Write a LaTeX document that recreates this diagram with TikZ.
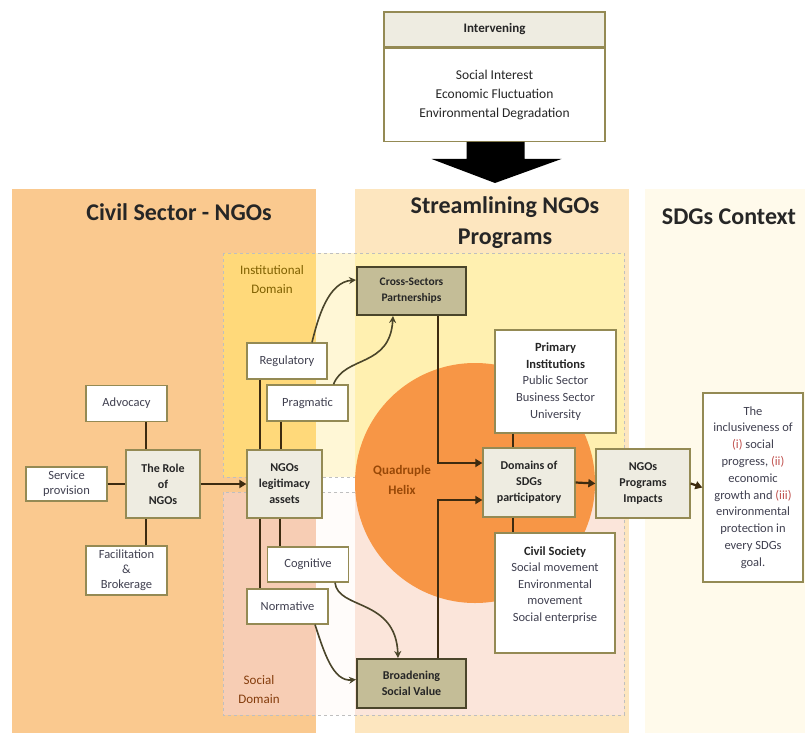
\documentclass[tikz,border=0pt]{standalone}
\usepackage{fontspec}
\setmainfont{Carlito}
\usetikzlibrary{calc,arrows.meta}
\definecolor{civilfill}{HTML}{FAC98F}
\definecolor{streamfill}{HTML}{FDE6BF}
\definecolor{sdgfill}{HTML}{FFFAEB}
\definecolor{instcivil}{HTML}{FFD97A}
\definecolor{instgap}{HTML}{FFF7D6}
\definecolor{inststream}{HTML}{FFF0B0}
\definecolor{soccivil}{HTML}{F7CDB4}
\definecolor{socgap}{HTML}{FFFCFA}
\definecolor{socstream}{HTML}{FBE5DA}
\definecolor{circfill}{HTML}{F79646}
\definecolor{boxborder}{HTML}{948A54}
\definecolor{cream}{HTML}{EEECE1}
\definecolor{khaki}{HTML}{C4BD97}
\definecolor{darkolive}{HTML}{4A452A}
\definecolor{conncol}{HTML}{3D2B10}
\definecolor{txtgray}{HTML}{404050}
\definecolor{txtdark}{HTML}{262626}
\definecolor{instcol}{HTML}{7F6000}
\definecolor{soccol}{HTML}{843C0C}
\definecolor{helixcol}{HTML}{984807}
\definecolor{romancol}{HTML}{C0504D}
\definecolor{domdash}{HTML}{BFBFBF}
\begin{document}
\begin{tikzpicture}[x=1pt,y=-1pt,
  wh/.style 2 args={minimum width=#1pt, minimum height=#2pt},
  wbox/.style={draw=boxborder, line width=1.3pt, fill=white, text=txtgray, align=center, inner sep=1pt, font=\fontsize{12.5}{16}\selectfont},
  cbox/.style={draw=boxborder, line width=1.3pt, fill=cream, text=txtdark, align=center, inner sep=1pt, font=\bfseries\fontsize{12}{16}\selectfont},
  kbox/.style={draw=darkolive, line width=2pt, fill=khaki, text=txtdark, align=center, inner sep=1pt, font=\bfseries\fontsize{11.5}{16}\selectfont},
  plaintxt/.style={text=txtgray, align=center, inner sep=0pt, font=\fontsize{12.5}{16.6}\selectfont},
  titletxt/.style={text=txtdark, align=center, inner sep=0pt, font=\bfseries\fontsize{24}{31}\selectfont},
  domlabel/.style={align=center, inner sep=0pt, font=\fontsize{13}{19}\selectfont},
  domline/.style={draw=domdash, line width=1pt, dash pattern=on 3pt off 3pt},
  conn/.style={draw=conncol, line width=2.2pt},
  arr/.style={conn, -{Triangle[length=7pt,width=8pt]}},
  curv/.style={draw=darkolive, line width=1.6pt, -{Stealth[length=7pt,width=7pt]}}
]
\useasboundingbox (0,0) rectangle (805,733);
\fill[white] (0,0) rectangle (805,733);
% panels
\fill[civilfill] (12,189) rectangle (316,733);
\fill[streamfill] (355,189) rectangle (629,733);
\fill[sdgfill] (645,189) rectangle (805,733);
% domains
\fill[instcivil] (223,253) rectangle (316,477);
\fill[instgap] (316,253) rectangle (355,477);
\fill[inststream] (355,253) rectangle (624,477);
\fill[soccivil] (223,492) rectangle (316,715);
\fill[socgap] (316,492) rectangle (355,715);
\fill[socstream] (355,492) rectangle (624,715);
\draw[domline] (223,253) rectangle (624,477);
\draw[domline] (223,492) rectangle (624,715);
% circle
\fill[circfill] (475,483) circle (120pt);

% titles and labels
\node[titletxt] (tcivil) at (179,212) {Civil Sector - NGOs};
\node[titletxt] (tstream) at (505,223) {Streamlining NGOs\\Programs};
\node[titletxt] (tsdg) at (729,217) {SDGs Context};
\node[domlabel, text=instcol] (tinst) at (272,280) {Institutional\\Domain};
\node[domlabel, text=soccol] (tsoc) at (259,690) {Social\\Domain};
\node[domlabel, text=helixcol, font=\bfseries\fontsize{13}{20}\selectfont] (thelix) at (402,480) {Quadruple\\Helix};

% intervening
\node[cbox, wh={221}{35}, font=\bfseries\fontsize{13}{16}\selectfont] (ihead) at (494.5,29.5) {Intervening};
\node[wbox, wh={221}{93}, anchor=north, font=\fontsize{13.5}{19}\selectfont, text=txtdark] (ibody) at (ihead.south) {Social Interest\\Economic Fluctuation\\Environmental Degradation};
\coordinate (atip) at (495,183);
\fill[black] ($(ibody.south)+(-28,0)$) -- ($(ibody.south)+(-28,17)$) -- ($(ibody.south)+(-63,17)$) -- (atip) -- ($(ibody.south)+(67,17)$) -- ($(ibody.south)+(30,17)$) -- ($(ibody.south)+(30,0)$) -- cycle;

% civil sector nodes
\node[wbox, wh={81}{36}] (advocacy) at (126.5,403.5) {Advocacy};
\node[wbox, wh={81}{34}, font=\fontsize{12.5}{15}\selectfont] (service) at (66.5,484) {Service\\provision};
\node[wbox, wh={81}{49}, font=\fontsize{12.5}{15}\selectfont] (facil) at (126.5,570.5) {Facilitation\\\&\\Brokerage};
\node[cbox, wh={74}{68}] (role) at (163,484) {The Role\\of\\NGOs};
\node[cbox, wh={75}{68}] (legit) at (284.5,484) {NGOs\\legitimacy\\assets};
\node[wbox, wh={80}{36}] (regul) at (287,361) {Regulatory};
\node[wbox, wh={81}{36}] (pragm) at (307.5,403) {Pragmatic};
\node[wbox, wh={81}{35}] (cogn) at (308,564.5) {Cognitive};
\node[wbox, wh={81}{35}] (norm) at (287.5,606.5) {Normative};

% streamlining nodes
\node[kbox, wh={109}{48}] (cross) at (411.5,291) {Cross-Sectors\\Partnerships};
\node[kbox, wh={109}{49}, font=\bfseries\fontsize{12}{16}\selectfont] (broad) at (411.5,683.5) {Broadening\\Social Value};
\node[wbox, wh={121}{103}, font=\fontsize{12.5}{16.8}\selectfont] (primary) at (555.5,381.5) {\textbf{\color{txtdark}Primary}\\\textbf{\color{txtdark}Institutions}\\Public Sector\\Business Sector\\University};
\node[cbox, wh={92}{69}] (domains) at (529,482.5) {Domains of\\SDGs\\participatory};
\node[wbox, wh={120}{120}] (civil) at (555,593) {};
\node[plaintxt] (civiltxt) at ([yshift=8pt]civil.center) {\textbf{\color{txtdark}Civil Society}\\Social movement\\Environmental\\movement\\Social enterprise};
\node[cbox, wh={94}{69}] (impacts) at (643,483.5) {NGOs\\Programs\\Impacts};
\node[wbox, wh={100}{189}, font=\fontsize{12.5}{16.8}\selectfont] (incl) at (753,487.5) {The\\inclusiveness of\\{\color{romancol}(i)} social\\progress, {\color{romancol}(ii)}\\economic\\growth and {\color{romancol}(iii)}\\environmental\\protection in\\every SDGs\\goal.};

% connectors civil
\draw[conn] ([xshift=19.5pt]advocacy.south) -- ([xshift=19.5pt]advocacy.south |- role.north);
\draw[conn] ([xshift=19.5pt]facil.north) -- ([xshift=19.5pt]facil.north |- role.south);
\draw[conn] (service.east) -- (service.east -| role.west);
\draw[arr] (role.east) -- (legit.west);
\draw[conn] ([xshift=-27pt]regul.south) -- ([xshift=-27pt]regul.south |- legit.north);
\draw[conn] ([xshift=-26.5pt]pragm.south) -- ([xshift=-26.5pt]pragm.south |- legit.north);
\draw[conn] ([xshift=-24.5pt]legit.south) -- ([xshift=-24.5pt]legit.south |- norm.north);
\draw[conn] ([xshift=-4.5pt]legit.south) -- ([xshift=-4.5pt]legit.south |- cogn.north);

% curves
\draw[curv] ([xshift=25pt]regul.north) .. controls (318,318) and (328,282) .. ([yshift=11pt]cross.west);
\draw[curv] ([xshift=26pt]pragm.north) .. controls (345,355) and (390,368) .. ([xshift=-18.5pt]cross.south);
\draw[curv] ([xshift=27pt]cogn.south) .. controls (338,610) and (396,598) .. ([xshift=-13.5pt]broad.north);
\draw[curv] ([xshift=27.5pt]norm.south) .. controls (324,652) and (333,682) .. ([yshift=4pt]broad.west);

% connectors streamlining
\draw[arr] ([xshift=26.5pt]cross.south) |- ([yshift=19.5pt]domains.west);
\draw[arr] ([xshift=26.5pt]broad.north) |- ([yshift=-17.5pt]domains.west);
\draw[conn] ([xshift=-42.5pt]primary.south) -- ([xshift=-42.5pt]primary.south |- domains.north);
\draw[conn] ([xshift=-16pt]domains.south) -- ([xshift=-16pt]domains.south |- civil.north);
\draw[arr] (domains.east) -- (impacts.west);
\draw[arr] (impacts.east) -- (incl.west);
\end{tikzpicture}
\end{document}
